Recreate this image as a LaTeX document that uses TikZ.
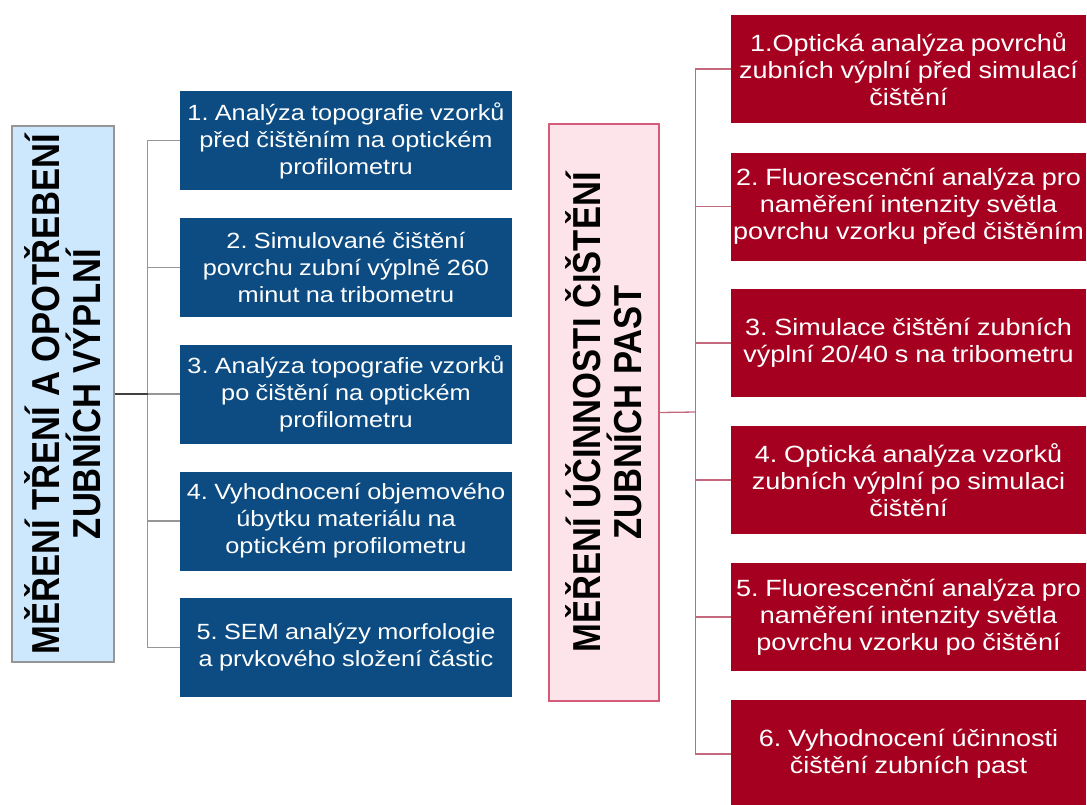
\documentclass[tikz,border=0pt]{standalone}
\usepackage{fontspec}
\setmainfont{Liberation Sans}
\newfontfamily\hfont[FakeStretch=1.15,WordSpace=0.9]{Liberation Sans}
\newfontfamily\vfont[FakeStretch=0.887]{Liberation Sans}
\frenchspacing
\definecolor{dblue}{RGB}{12,76,130}
\definecolor{dred}{RGB}{166,0,32}
\definecolor{lblue}{RGB}{205,232,253}
\definecolor{lpink}{RGB}{253,228,234}
\definecolor{pinkline}{RGB}{212,92,120}
\definecolor{redline}{RGB}{196,104,126}
\definecolor{grayline}{RGB}{150,150,150}
\tikzset{
  bluebox/.style={fill=dblue, draw=none, text=white, minimum width=332pt, minimum height=99pt, inner sep=0pt, align=center, font=\hfont\frenchspacing\fontsize{22}{27}\selectfont},
  redbox/.style={fill=dred, draw=none, text=white, minimum width=355pt, minimum height=108pt, inner sep=0pt, align=center, font=\hfont\frenchspacing\fontsize{23.5}{27}\selectfont},
  leftbox/.style={fill=lblue, draw=grayline, line width=1.2pt, minimum width=102pt, minimum height=536pt, inner sep=0pt},
  midbox/.style={fill=lpink, draw=pinkline, line width=1.2pt, minimum width=110pt, minimum height=577pt, inner sep=0pt},
  vtext/.style={rotate=90, align=center, inner sep=0pt, font=\vfont\bfseries\frenchspacing\fontsize{39}{41}\selectfont},
  lconn/.style={draw=grayline, line width=1.3pt},
  ltrunk/.style={draw=black!75, line width=1.3pt},
  rconn/.style={draw=redline, line width=1.3pt}
}
\begin{document}
\begin{tikzpicture}[x=1pt, y=-1pt]
\useasboundingbox (0,0) rectangle (1087,804);
\clip (0,0) rectangle (1087,804);
% left group
\node[leftbox] (L) at (63,394) {};
\node[vtext] (Lt) at (L.center) {MĚŘENÍ TŘENÍ A OPOTŘEBENÍ\\ZUBNÍCH VÝPLNÍ};
\node[bluebox] (b1) at (346,140.5) {1. Analýza topografie vzorků\\před čištěním na optickém\\profilometru};
\node[bluebox] (b2) at (346,267.5) {2. Simulované čištění\\povrchu zubní výplně 260\\minut na tribometru};
\node[bluebox] (b3) at (346,394) {3. Analýza topografie vzorků\\po čištění na optickém\\profilometru};
\node[bluebox] (b4) at (346,521) {4. Vyhodnocení objemového\\úbytku materiálu na\\optickém profilometru};
\node[bluebox] (b5) at (346,647.5) {5. SEM analýzy morfologie\\a prvkového složení částic};
\coordinate (lj) at (147.5,394);
\draw[lconn] (lj) |- (b1.west);
\draw[lconn] (lj) |- (b2.west);
\draw[lconn] (lj) -- (b3.west);
\draw[lconn] (lj) |- (b4.west);
\draw[lconn] (lj) |- (b5.west);
\draw[ltrunk] (L.east) -- (lj);
% right group
\node[midbox] (M) at (604,412.5) {};
\node[vtext] (Mt) at (M.center) {MĚŘENÍ ÚČINNOSTI ČIŠTĚNÍ\\ZUBNÍCH PAST};
\node[redbox] (r1) at (908.5,69) {1.Optická analýza povrchů\\zubních výplní před simulací\\čištění};
\node[redbox] (r2) at (908.5,206.5) {2. Fluorescenční analýza pro\\naměření intenzity světla\\povrchu vzorku před čištěním};
\node[redbox] (r3) at (908.5,343) {3. Simulace čištění zubních\\výplní 20/40 s na tribometru};
\node[redbox] (r4) at (908.5,480) {4. Optická analýza vzorků\\zubních výplní po simulaci\\čištění};
\node[redbox] (r5) at (908.5,617) {5. Fluorescenční analýza pro\\naměření intenzity světla\\povrchu vzorku po čištění};
\node[redbox] (r6) at (908.5,754) {6. Vyhodnocení účinnosti\\čištění zubních past};
\coordinate (rj) at (695.5,412);
\draw[rconn] (M.east) -- (rj);
\draw[rconn] (rj) |- (r1.west);
\draw[rconn] (rj) |- (r2.west);
\draw[rconn] (rj) |- (r3.west);
\draw[rconn] (rj) |- (r4.west);
\draw[rconn] (rj) |- (r5.west);
\draw[rconn] (rj) |- (r6.west);
\end{tikzpicture}
\end{document}
